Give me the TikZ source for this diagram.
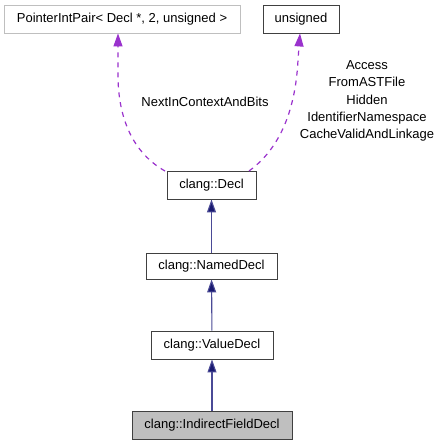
\documentclass[tikz,border=0pt]{standalone}
\usepackage{fontspec}
\setmainfont{Liberation Sans}
\usetikzlibrary{arrows.meta}
\definecolor{navy}{HTML}{191970}
\definecolor{navyline}{HTML}{4A4A96}
\definecolor{orchid}{HTML}{9A32CD}
\definecolor{boxgrey}{HTML}{BFBFBF}
\begin{document}
\begin{tikzpicture}[x=1pt,y=-1pt,
  cls/.style={draw=black!75, line width=0.9pt, fill=white, inner sep=0pt, font=\fontsize{13}{15}\selectfont, anchor=center},
  inh/.style={draw=navyline, line width=1.1pt, -{Triangle[width=9pt,length=13pt,fill=navy]}, color=navyline},
  use/.style={draw=orchid, line width=1.2pt, dash pattern=on 5pt off 5pt, -{Triangle[width=9pt,length=13pt,fill=orchid]}},
  lbl/.style={font=\fontsize{13}{17.2}\selectfont, align=center, inner sep=0pt}]
\useasboundingbox (0,0) rectangle (440,445);
\fill[white] (0,0) rectangle (440,445);
\node[cls, draw=boxgrey, minimum width=236pt, minimum height=28pt] (pip) at (122,19) {PointerIntPair< Decl *, 2, unsigned >};
\node[cls, minimum width=76pt, minimum height=28pt] (uns) at (301,19) {unsigned};
\node[cls, minimum width=89pt, minimum height=28pt] (decl) at (211.5,185) {clang::Decl};
\node[cls, minimum width=131pt, minimum height=26pt] (named) at (211.5,266) {clang::NamedDecl};
\node[cls, minimum width=122pt, minimum height=28pt] (value) at (212,345) {clang::ValueDecl};
\node[cls, fill=boxgrey, minimum width=160pt, minimum height=28pt] (ifd) at (212,425) {clang::IndirectFieldDecl};
\coordinate (dl) at (165,171);
\coordinate (dr) at (249,171);
\draw[use] (dl) .. controls (128,150) and (118,110) .. (118,75) -- (pip.south -| 118,0);
\draw[use] (dr) .. controls (285,145) and (296,100) .. (298,60) -- (uns.south -| 300,0);
\node[lbl] (l1) at (205,102) {NextInContextAndBits};
\node[lbl] (l2) at (367,101) {Access\\FromASTFile\\Hidden\\IdentifierNamespace\\CacheValidAndLinkage};
\draw[inh] (named) -- (decl);
\draw[inh] (value) -- (named);
\draw[inh] (ifd) -- (value);
\end{tikzpicture}
\end{document}
